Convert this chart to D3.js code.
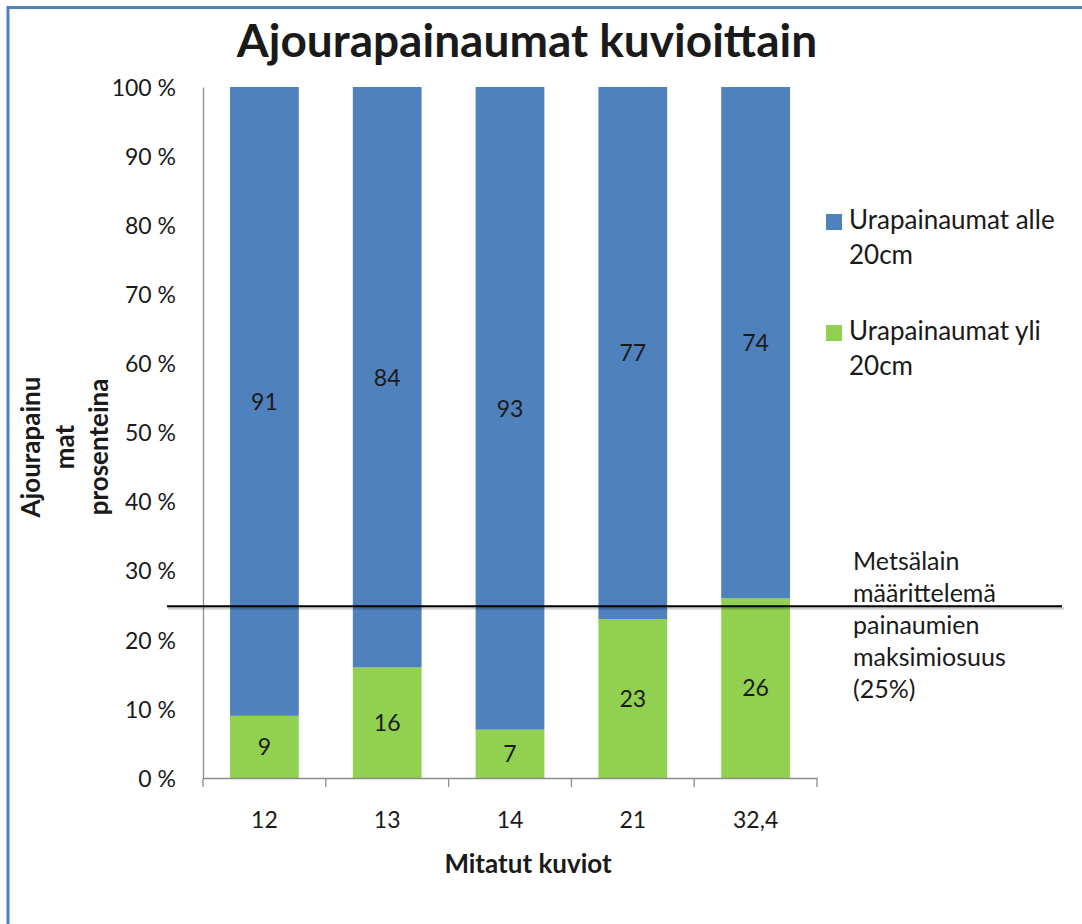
<!DOCTYPE html>
<html>
<head>
<meta charset="utf-8">
<script src="https://cdn.jsdelivr.net/npm/d3@7"></script>
<style>
  html, body { margin: 0; padding: 0; background: #ffffff; }
  svg { display: block; }
  text { font-family: Lato, "Open Sans", sans-serif; fill: #1a1a1a; }
</style>
</head>
<body>
<svg id="chart" width="1082" height="924"></svg>
<script>
// ---- data ----
const categories = ["12", "13", "14", "21", "32,4"];
const overValues = [9, 16, 7, 23, 26];     // Urapainaumat yli 20cm (green, bottom)
const underValues = [91, 84, 93, 77, 74];  // Urapainaumat alle 20cm (blue, top)
const seriesNames = ["Urapainaumat alle 20cm", "Urapainaumat yli 20cm"];
const yTicks = [0, 10, 20, 30, 40, 50, 60, 70, 80, 90, 100];
const threshold = 25;
const titleText = "Ajourapainaumat kuvioittain";
const xTitle = "Mitatut kuviot";
const yTitleLines = ["Ajourapainu", "mat", "prosenteina"];
const legendLines = [["Urapainaumat alle", "20cm"], ["Urapainaumat yli", "20cm"]];
const noteLines = ["Metsälain", "määrittelemä", "painaumien", "maksimiosuus", "(25%)"];

// ---- layout ----
const BLUE = "#4F81BD", GREEN = "#92D050", AXIS = "#8c8c8c";
const plot = { left: 203, right: 817, top: 87, bottom: 778 };
const svg = d3.select("#chart");

// frame (top and left edges visible)
svg.append("line").attr("x1", 8).attr("x2", 1082).attr("y1", 7.5).attr("y2", 7.5)
  .attr("stroke", BLUE).attr("stroke-width", 3);
svg.append("line").attr("x1", 8).attr("x2", 8).attr("y1", 6).attr("y2", 924)
  .attr("stroke", BLUE).attr("stroke-width", 3);

const x = d3.scaleBand().domain(categories).range([plot.left, plot.right])
  .paddingInner(0.44).paddingOuter(0.22);
const y = d3.scaleLinear().domain([0, 100]).range([plot.bottom, plot.top]);

// stacked data
const rows = categories.map((c, i) => ({ cat: c, over: overValues[i], under: underValues[i] }));
const stack = d3.stack().keys(["over", "under"])(rows);
const colors = { over: GREEN, under: BLUE };

const layers = svg.append("g").selectAll("g").data(stack).join("g")
  .attr("fill", d => colors[d.key]);
layers.selectAll("rect").data(d => d).join("rect")
  .attr("x", d => x(d.data.cat))
  .attr("width", x.bandwidth())
  .attr("y", d => y(d[1]))
  .attr("height", d => y(d[0]) - y(d[1]));

// data labels
const labels = svg.append("g");
stack.forEach(layer => {
  labels.selectAll(null).data(layer).join("text")
    .attr("x", d => x(d.data.cat) + x.bandwidth() / 2)
    .attr("y", d => (y(d[0]) + y(d[1])) / 2)
    .attr("dy", "0.36em")
    .attr("text-anchor", "middle")
    .attr("font-size", 23)
    .text(d => d.data[layer.key]);
});

// y axis
const yAxis = svg.append("g").attr("transform", `translate(${plot.left},0)`)
  .call(d3.axisLeft(y).tickValues(yTicks).tickSize(0).tickPadding(27).tickFormat(d => d + " %"));
yAxis.select(".domain").attr("stroke", AXIS).attr("stroke-width", 1.3);
yAxis.selectAll("text").attr("font-size", 23).attr("font-family", "Lato").attr("fill", "#1a1a1a")
  .attr("dy", "0.36em");

// x axis
const xAxis = svg.append("g").attr("transform", `translate(0,${plot.bottom})`)
  .call(d3.axisBottom(x).tickSize(0).tickPadding(34));
xAxis.select(".domain").attr("stroke", AXIS).attr("stroke-width", 1.3);
xAxis.selectAll("text").attr("font-size", 23).attr("font-family", "Lato").attr("fill", "#1a1a1a");
// boundary ticks between categories
const bounds = categories.map(c => x(c) - x.step() * x.paddingInner() / 2)
  .concat([plot.right]);
bounds[0] = plot.left;
xAxis.selectAll(".bound").data(bounds).join("line").attr("class", "bound")
  .attr("x1", d => d).attr("x2", d => d).attr("y1", 0).attr("y2", 9)
  .attr("stroke", AXIS).attr("stroke-width", 1.3);

// threshold line with slight shadow
const ty = y(threshold) + 1;
svg.append("line")
  .attr("x1", 168).attr("x2", 1064)
  .attr("y1", ty + 2).attr("y2", ty + 2)
  .attr("stroke", "#000").attr("stroke-opacity", 0.18).attr("stroke-width", 3);
svg.append("line")
  .attr("x1", 167).attr("x2", 1062)
  .attr("y1", ty).attr("y2", ty)
  .attr("stroke", "#000").attr("stroke-width", 2.2);

// title
svg.append("text").attr("x", 527).attr("y", 57).attr("text-anchor", "middle")
  .attr("font-weight", "bold").attr("font-size", 46).attr("fill", "#000")
  .text(titleText);

// x title
svg.append("text").attr("x", 528).attr("y", 873).attr("text-anchor", "middle")
  .attr("font-weight", "bold").attr("font-size", 26).attr("fill", "#000")
  .text(xTitle);

// y title (rotated, three lines)
const yBaselines = [40, 74, 108];
yTitleLines.forEach((t, i) => {
  svg.append("text")
    .attr("transform", `translate(${yBaselines[i]},447) rotate(-90)`)
    .attr("text-anchor", "middle")
    .attr("font-weight", "bold").attr("font-size", 26).attr("fill", "#000")
    .text(t);
});

// legend
const legendTop = [214, 325];
const legendColors = [BLUE, GREEN];
legendLines.forEach((lines, i) => {
  const g = svg.append("g");
  g.append("rect").attr("x", 826).attr("y", legendTop[i]).attr("width", 16).attr("height", 16)
    .attr("fill", legendColors[i]);
  lines.forEach((t, j) => {
    g.append("text").attr("x", 849).attr("y", legendTop[i] + 15 + j * 35)
      .attr("font-size", 26).text(t);
  });
});

// annotation
noteLines.forEach((t, j) => {
  svg.append("text").attr("x", 853).attr("y", 570 + j * 32)
    .attr("font-size", 25).text(t);
});
</script>
</body>
</html>
